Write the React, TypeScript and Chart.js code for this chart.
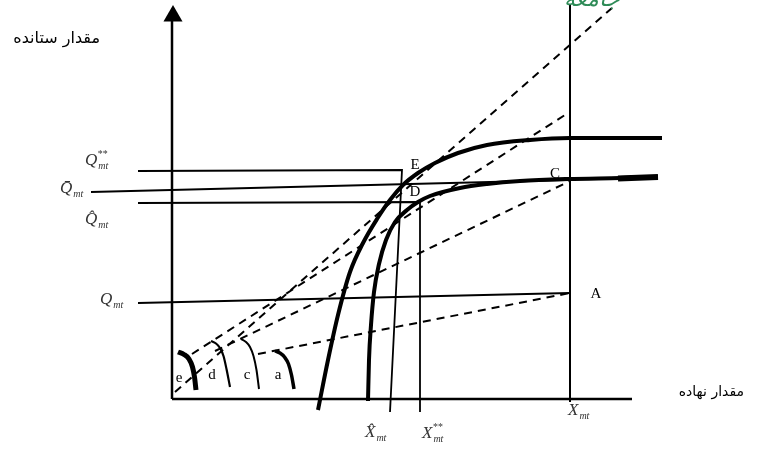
import React, { useEffect, useRef } from "react";
import { Chart, registerables } from "chart.js";
Chart.register(...registerables);

// Diagram coordinate space (x: 0..764 left→right, y: 0..449 top→bottom)
const axisYX = [172, 172];
const axisYY = [399, 20];
const arrowTipX = [173];
const arrowTipY = [16];
const axisXX = [172, 632];
const axisXY = [399, 399];
const frontierX = [570, 570];
const frontierY = [4, 402];

const upperCurveX = [318, 328, 338, 350, 363, 377, 390, 403, 418, 435, 458, 487, 530, 570, 662];
const upperCurveY = [410, 360, 315, 272, 243, 219, 200, 185, 173, 163, 153, 145, 140, 138, 138];
const lowerCurveX = [368, 369, 371, 374, 379, 386, 395, 407, 418, 430, 460, 487, 520, 568, 620, 658];
const lowerCurveY = [401, 360, 325, 292, 264, 240, 222, 210, 202, 196, 188, 184, 181, 179, 178, 177];
const lowerTipX = [618, 658];
const lowerTipY = [178.5, 177];

const qStarX = [138, 402, 390];
const qStarY = [171, 170, 412];
const qHatX = [138, 420, 420];
const qHatY = [203, 202, 412];
const qBarX = [91, 570];
const qBarY = [192, 180];
const qLowX = [138, 570];
const qLowY = [303, 293];

const ray1X = [175, 612];
const ray1Y = [392, 8];
const ray2X = [192, 568];
const ray2Y = [354, 113];
const ray3X = [215, 570];
const ray3Y = [351, 181];
const ray4X = [258, 570];
const ray4Y = [354, 293];

const arcEX = [178, 184, 189, 192.5, 194.5, 196];
const arcEY = [352, 354.5, 359, 367, 377, 390];
const arcDX = [211, 216, 220, 223.5, 226.5, 230];
const arcDY = [341, 343.5, 348, 356, 369, 387];
const arcCX = [241, 246, 250, 253.5, 256.5, 259];
const arcCY = [339, 342, 347, 356, 370, 389];
const arcAX = [275, 280, 284.5, 288.5, 291.5, 294];
const arcAY = [351, 353, 357, 364, 375, 389];

const pointLabels = ["E", "D", "C", "A", "e", "d", "c", "a"];
const pointLabelX = [415, 415, 555, 596, 179, 212, 247, 278];
const pointLabelY = [165, 192, 174, 294, 378, 375, 375, 375];

const mathMain = ["Q", "Q\u0304", "Q\u0302", "Q", "X\u0302", "X", "X"];
const mathSup = ["**", "", "", "", "", "**", ""];
const mathX = [85, 60, 85, 100, 365, 422, 568];
const mathY = [161, 189, 220, 300, 433, 434, 411];

const axisTitles = ["مقدار ستانده", "مقدار نهاده"];
const axisTitleX = [100, 744];
const axisTitleY = [39, 392];
const axisTitleSize = [16, 14];

const watermark = ["جامعه"];
const watermarkX = [592];
const watermarkY = [0];

function line(xs: number[], ys: number[], width: number, dash: number[] = [], tension = 0) {
  return {
    type: "scatter" as const,
    data: xs.map((x, i) => ({ x, y: ys[i] })),
    showLine: true,
    borderColor: "#000",
    backgroundColor: "#000",
    borderWidth: width,
    borderDash: dash,
    borderCapStyle: "butt" as const,
    tension,
    cubicInterpolationMode: tension ? ("monotone" as const) : ("default" as const),
    pointRadius: 0,
    pointHoverRadius: 0,
  };
}

const textPlugin = {
  id: "diagramText",
  afterDatasetsDraw(chart: any) {
    const ctx = chart.ctx;
    const sx = chart.scales.x;
    const sy = chart.scales.y;
    ctx.save();
    ctx.fillStyle = "#000";
    ctx.textBaseline = "middle";
    ctx.font = "15px 'Liberation Serif'";
    ctx.textAlign = "center";
    pointLabels.forEach((t, i) => {
      ctx.fillText(t, sx.getPixelForValue(pointLabelX[i]), sy.getPixelForValue(pointLabelY[i]));
    });
    ctx.textAlign = "left";
    mathMain.forEach((t, i) => {
      const x = sx.getPixelForValue(mathX[i]);
      const y = sy.getPixelForValue(mathY[i]);
      ctx.fillStyle = "#333";
      ctx.font = "italic 17px 'Liberation Serif'";
      ctx.fillText(t, x, y);
      const w = ctx.measureText(t.charAt(0)).width;
      ctx.font = "italic 10px 'Liberation Serif'";
      if (mathSup[i]) ctx.fillText(mathSup[i], x + w, y - 7);
      ctx.fillText("mt", x + w + 1, y + 5);
    });
    ctx.fillStyle = "#000";
    ctx.textAlign = "right";
    ctx.direction = "rtl";
    axisTitles.forEach((t, i) => {
      ctx.font = axisTitleSize[i] + "px 'DejaVu Sans'";
      ctx.fillText(t, sx.getPixelForValue(axisTitleX[i]), sy.getPixelForValue(axisTitleY[i]));
    });
    ctx.fillStyle = "#2e8b57";
    ctx.font = "italic 22px 'DejaVu Serif'";
    ctx.textAlign = "center";
    watermark.forEach((t, i) => {
      ctx.fillText(t, sx.getPixelForValue(watermarkX[i]), sy.getPixelForValue(watermarkY[i]));
    });
    ctx.restore();
  },
};

export default function App() {
  const ref = useRef<HTMLCanvasElement>(null);
  useEffect(() => {
    const canvas = ref.current!;
    const datasets: any[] = [
      line(axisYX, axisYY, 2.5),
      line(axisXX, axisXY, 2.5),
      line(frontierX, frontierY, 2),
      line(qStarX, qStarY, 1.8),
      line(qHatX, qHatY, 1.8),
      line(qBarX, qBarY, 2),
      line(qLowX, qLowY, 2),
      line(ray1X, ray1Y, 2, [8, 6]),
      line(ray2X, ray2Y, 2, [8, 6]),
      line(ray3X, ray3Y, 2, [8, 6]),
      line(ray4X, ray4Y, 2, [8, 6]),
      line(upperCurveX, upperCurveY, 4, [], 0.4),
      line(lowerCurveX, lowerCurveY, 4, [], 0.4),
      line(lowerTipX, lowerTipY, 6),
      line(arcEX, arcEY, 5, [], 0.4),
      line(arcDX, arcDY, 2.2, [], 0.4),
      line(arcCX, arcCY, 2, [], 0.4),
      line(arcAX, arcAY, 3.5, [], 0.4),
      {
        type: "scatter",
        data: arrowTipX.map((x, i) => ({ x, y: arrowTipY[i] })),
        pointStyle: "triangle",
        pointRadius: 11,
        pointHoverRadius: 11,
        backgroundColor: "#000",
        borderColor: "#000",
        borderWidth: 0,
        clip: false,
      },
    ];
    const chart = new Chart(canvas, {
      type: "scatter",
      data: { datasets },
      options: {
        animation: false,
        responsive: false,
        maintainAspectRatio: false,
        layout: { padding: 0, autoPadding: false },
        events: [],
        plugins: { legend: { display: false }, tooltip: { enabled: false } },
        scales: {
          x: { type: "linear", display: false, min: 0, max: 764 },
          y: { type: "linear", display: false, min: 0, max: 449, reverse: true },
        },
      },
      plugins: [textPlugin],
    });
    return () => chart.destroy();
  }, []);
  return (
    <div style={{ position: "absolute", left: 0, top: 0, width: 764, height: 449, background: "#fff" }}>
      <canvas ref={ref} width={764} height={449} style={{ display: "block" }} />
    </div>
  );
}
